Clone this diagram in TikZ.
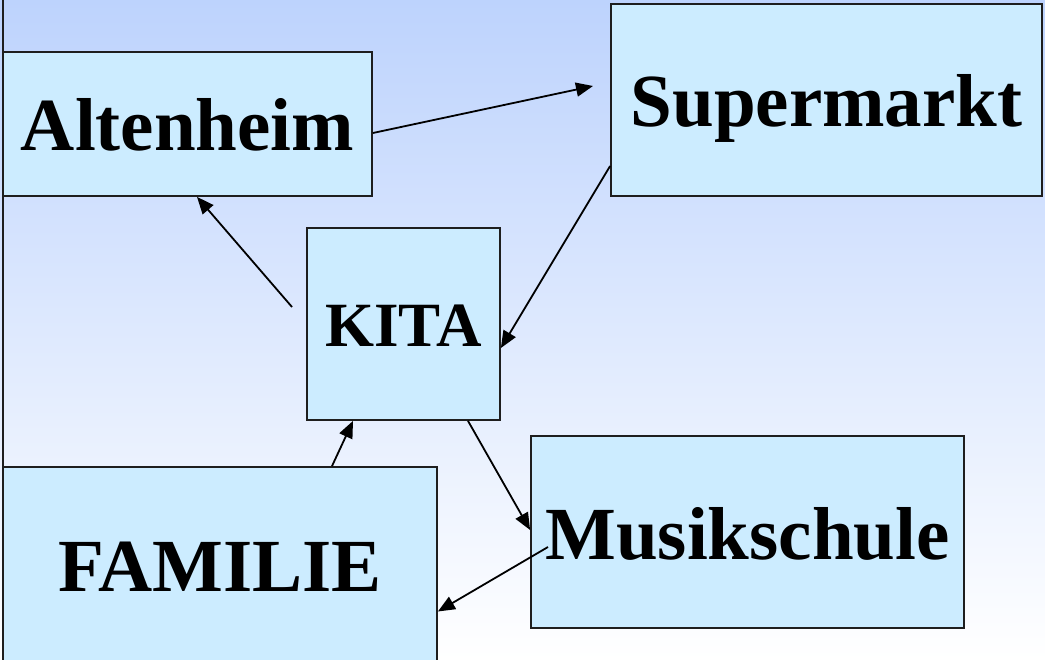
\documentclass[tikz,border=0pt]{standalone}
\usepackage{fontspec}
\setmainfont{Liberation Serif}
\usetikzlibrary{arrows.meta,calc}
\definecolor{bgtop}{RGB}{189,211,253}
\definecolor{bgmid}{RGB}{228,236,253}
\definecolor{bgbot}{RGB}{255,255,255}
\definecolor{boxfill}{RGB}{204,236,255}
\definecolor{boxline}{RGB}{30,30,30}
\tikzset{
  box/.style={rectangle, draw=boxline, fill=boxfill, line width=1.8pt, inner sep=0pt,
    font=\bfseries\fontsize{75}{80}\selectfont, text height=54pt, text depth=0pt},
  smallbox/.style={box, font=\bfseries\fontsize{63}{68}\selectfont, text height=46pt},
  arr/.style={line width=1.8pt, draw=black, -{Triangle[length=17pt,width=14pt]}}
}
\begin{document}
\begin{tikzpicture}[x=1pt,y=-1pt]
\useasboundingbox (0,0) rectangle (1045,660);
\shade[top color=bgtop, middle color=bgmid, bottom color=bgbot] (0,0) rectangle (1045,660);
\draw[line width=1.8pt, boxline] (3,0) -- (3,467);
% nodes
\node[box, minimum width=369pt, minimum height=144pt] (alt) at (187.5,124) {Altenheim};
\node[box, minimum width=431pt, minimum height=192pt] (sup) at (826.5,100) {Supermarkt};
\node[smallbox, minimum width=193pt, minimum height=192pt] (kita) at (403.5,324) {KITA};
\node[box, minimum width=434pt, minimum height=195pt] (fam) at (220,564.5) {FAMILIE};
\node[box, minimum width=433pt, minimum height=192pt] (mus) at (747.5,532) {Musikschule};
% free ends
\coordinate (supin) at (593,86);
\coordinate (kitaout) at (292,307);
\coordinate (musout) at (548,547);
% connectors
\draw[arr] ([yshift=-9pt]alt.east) -- (supin);
\draw[arr] ([yshift=-66pt]sup.west) -- ([yshift=-24pt]kita.east);
\draw[arr] (kitaout) -- ([xshift=9.5pt]alt.south);
\draw[arr] ([xshift=112pt]fam.north) -- ([xshift=-50.5pt]kita.south);
\draw[arr] ([xshift=64.5pt]kita.south) -- ([yshift=2pt]mus.west);
\draw[arr] (musout) -- ([yshift=-47pt]fam.east);
\end{tikzpicture}
\end{document}
